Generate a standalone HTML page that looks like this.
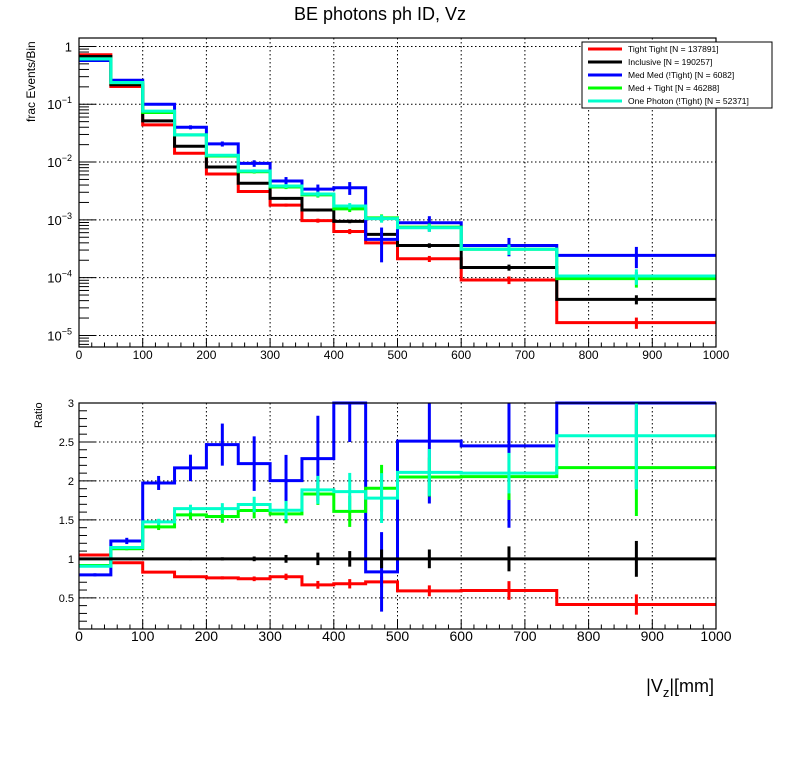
<!DOCTYPE html>
<html><head><meta charset="utf-8"><style>
body{margin:0;background:#fff;}
svg{display:block;font-family:"Liberation Sans",Arial,sans-serif;}
</style></head><body>
<svg id="c" width="796" height="772" viewBox="0 0 796 772">
<rect width="796" height="772" fill="#fff"/>
<text x="380" y="20" font-size="18" text-anchor="middle">BE photons ph ID, Vz</text>
<text transform="translate(35,122) rotate(-90)" font-size="12" text-anchor="start">frac Events/Bin</text>
<text transform="translate(42,428) rotate(-90)" font-size="11" text-anchor="start">Ratio</text>
<text x="714" y="692" font-size="18" text-anchor="end">|V<tspan font-size="13" dy="5">z</tspan><tspan dy="-5">|[mm]</tspan></text>
<g id="topPanel"></g>
<g id="botPanel"></g>
<g id="leg"></g>
</svg>
<script>
const binEdges=[0,50,100,150,200,250,300,350,400,450,500,600,750,1000];
const seriesNames=["Tight Tight [N = 137891]","Inclusive [N = 190257]","Med Med (!Tight) [N = 6082]","Med + Tight [N = 46288]","One Photon (!Tight) [N = 52371]"];
const seriesColors=["#ff0000","#000000","#0000ff","#00ff00","#00ffcc"];
const fracRed=[0.72,0.203,0.044,0.0142,0.0062,0.0031,0.0018,0.00097,0.00063,0.0004,0.000212,0.000091,0.0000167];
const fracBlack=[0.67,0.217,0.0515,0.0188,0.0082,0.0043,0.00235,0.00148,0.00094,0.00056,0.00036,0.00015,0.000042];
const fracBlue=[0.57,0.26,0.1,0.04,0.0206,0.0095,0.0047,0.0034,0.0036,0.00046,0.00089,0.00036,0.000243];
const fracGreen=[0.61,0.236,0.072,0.0295,0.0127,0.0068,0.0037,0.0027,0.00155,0.00108,0.00075,0.00031,0.000096];
const fracCyan=[0.61,0.238,0.076,0.0295,0.0131,0.007,0.00385,0.0028,0.00174,0.00105,0.00073,0.00031,0.000107];
const relErrRed=[0.005,0.01,0.02,0.03,0.04,0.05,0.06,0.08,0.1,0.1,0.12,0.15,0.22];
const relErrBlack=[0.004,0.008,0.015,0.02,0.03,0.04,0.05,0.06,0.07,0.08,0.09,0.12,0.18];
const relErrBlue=[0.03,0.03,0.05,0.08,0.1,0.13,0.17,0.2,0.25,0.6,0.3,0.35,0.4];
const relErrGreen=[0.01,0.02,0.03,0.04,0.05,0.07,0.08,0.1,0.12,0.15,0.15,0.2,0.3];
const relErrCyan=[0.01,0.02,0.03,0.04,0.05,0.07,0.08,0.1,0.12,0.15,0.15,0.2,0.3];
const ratioRed=[1.05,0.95,0.83,0.77,0.756,0.744,0.77,0.667,0.68,0.705,0.59,0.594,0.414];
const ratioBlack=[1,1,1,1,1,1,1,1,1,1,1,1,1];
const ratioBlue=[0.795,1.23,1.974,2.167,2.466,2.222,2.004,2.286,3.2,0.833,2.51,2.45,3.2];
const ratioGreen=[0.915,1.13,1.41,1.564,1.543,1.62,1.577,1.833,1.61,1.906,2.05,2.055,2.17];
const ratioCyan=[0.906,1.145,1.474,1.645,1.645,1.697,1.624,1.885,1.863,1.78,2.11,2.1,2.58];
const rErrRed=[0.01,0.01,0.01,0.015,0.02,0.03,0.04,0.05,0.06,0.07,0.07,0.12,0.13];
const rErrBlack=[0.005,0.008,0.012,0.017,0.02,0.03,0.05,0.08,0.1,0.12,0.12,0.16,0.23];
const rErrBlue=[0.02,0.04,0.09,0.17,0.27,0.35,0.33,0.55,0.7,0.51,0.8,1.05,1.3];
const rErrGreen=[0.01,0.02,0.04,0.06,0.08,0.1,0.12,0.14,0.2,0.3,0.25,0.3,0.62];
const rErrCyan=[0.01,0.02,0.04,0.05,0.07,0.1,0.12,0.18,0.24,0.32,0.3,0.26,0.69];
const xTickLabels=["0","100","200","300","400","500","600","700","800","900","1000"];
const topYTickExp=[0,-1,-2,-3,-4,-5];
const ratioTickLabels=["0.5","1","1.5","2","2.5","3"];

const NS="http://www.w3.org/2000/svg";
function mk(parent,tag,attrs){const e=document.createElementNS(NS,tag);for(const k in attrs)e.setAttribute(k,attrs[k]);parent.appendChild(e);return e;}
const X0=79,X1=716;
const sx=v=>X0+(v-0)/(1000-0)*(X1-X0);
const T0=38,T1=347,LMAX=Math.log10(1.4),LMIN=-5.2;
const syT=v=>T0+(LMAX-Math.log10(v))/(LMAX-LMIN)*(T1-T0);
const B0=403,B1=629,RMIN=0.1,RMAX=3;
const syB=v=>B0+(RMAX-Math.min(Math.max(v,RMIN),RMAX))/(RMAX-RMIN)*(B1-B0);

function frameAndX(g,y0,y1,fs,ly){
  xTickLabels.forEach((l,i)=>{const v=+l;const x=sx(v);
    if(i>0&&i<xTickLabels.length-1){const gl=mk(g,'line',{x1:x,x2:x,y1:y0,y2:y1,stroke:'#000','stroke-width':1,'stroke-dasharray':'1.5,2.5'});
    
    }
    const t=mk(g,'text',{x:x,y:ly,'font-size':fs,'text-anchor':'middle'});t.textContent=l;
    
    
  });
  for(let v=0;v<=1000;v+=20){const x=sx(v);const len=(v%100===0)?9:4.5;
    mk(g,'line',{x1:x,x2:x,y1:y1,y2:y1-len,stroke:'#000','stroke-width':1});}
}
function drawSeries(g,vals,errs,col,sy,isTop,name){
  const sg=mk(g,'g',{});
  
  
  let d='';
  for(let i=0;i<vals.length;i++){const y=sy(vals[i]);const xa=sx(binEdges[i]),xb=sx(binEdges[i+1]);
    d+=(i===0?'M':'L')+xa+','+y+'L'+xb+','+y;}
  mk(sg,'path',{d:d,fill:'none',stroke:col,'stroke-width':3});
  for(let i=0;i<vals.length;i++){const xc=sx((binEdges[i]+binEdges[i+1])/2);
    let lo,hi;
    if(isTop){lo=vals[i]*(1-errs[i]);hi=vals[i]*(1+errs[i]);}else{lo=vals[i]-errs[i];hi=vals[i]+errs[i];}
    const y1=sy(hi),y2=sy(Math.max(lo,isTop?1e-7:RMIN));
    if(Math.abs(y2-y1)>1){const eb=mk(sg,'line',{x1:xc,x2:xc,y1:y1,y2:y2,stroke:col,'stroke-width':3});
    
    }
  }
}
const topG=document.getElementById('topPanel'),botG=document.getElementById('botPanel');
topYTickExp.forEach(e=>{const y=syT(Math.pow(10,e));
  const gl=mk(topG,'line',{x1:X0,x2:X1,y1:y,y2:y,stroke:'#000','stroke-width':1,'stroke-dasharray':'1.5,2.5'});
  
  
  const t=mk(topG,'text',{x:72,y:y+5,'font-size':13,'text-anchor':'end'});
  if(e===0)t.textContent='1';else{t.textContent='10';const s=mk(t,'tspan',{dy:-6,'font-size':9});s.textContent='\u2212'+(-e);}
  
  
});
for(let e=0;e>=-6;e--){for(let m=1;m<10;m++){const v=m*Math.pow(10,e);if(v>1.4||v<Math.pow(10,LMIN))continue;
  const y=syT(v);mk(topG,'line',{x1:X0,x2:X0+(m===1?17:10),y1:y,y2:y,stroke:'#000','stroke-width':1});}}
frameAndX(topG,T0,T1,12,359);
const topVals=[fracRed,fracBlack,fracBlue,fracGreen,fracCyan];
const topErr=[relErrRed,relErrBlack,relErrBlue,relErrGreen,relErrCyan];
const snames=['tight-tight','inclusive','med-med','med-tight','one-photon'];
topVals.forEach((v,k)=>drawSeries(topG,v,topErr[k],seriesColors[k],syT,true,snames[k]+'-histogram'));
mk(topG,'rect',{x:X0,y:T0,width:X1-X0,height:T1-T0,fill:'none',stroke:'#000','stroke-width':1.2});
ratioTickLabels.forEach(l=>{const v=+l;const y=syB(v);
  if(v<3){const gl=mk(botG,'line',{x1:X0,x2:X1,y1:y,y2:y,stroke:'#000','stroke-width':1,'stroke-dasharray':'1.5,2.5'});
  
  }
  const t=mk(botG,'text',{x:74,y:y+4,'font-size':11,'text-anchor':'end'});t.textContent=l;
  
  
});
for(let v=0.1;v<=3.001;v+=0.1){const y=syB(v);const maj=Math.abs(v*2-Math.round(v*2))<1e-6;
  mk(botG,'line',{x1:X0,x2:X0+(maj?17:8),y1:y,y2:y,stroke:'#000','stroke-width':1});}
frameAndX(botG,B0,B1,14,641);
const rVals=[ratioRed,ratioBlack,ratioBlue,ratioGreen,ratioCyan];
const rErr=[rErrRed,rErrBlack,rErrBlue,rErrGreen,rErrCyan];
[0,2,3,4,1].forEach(k=>drawSeries(botG,rVals[k],rErr[k],seriesColors[k],syB,false,snames[k]+'-ratio'));
mk(botG,'rect',{x:X0,y:B0,width:X1-X0,height:B1-B0,fill:'none',stroke:'#000','stroke-width':1.2});
const leg=document.getElementById('leg');
mk(leg,'rect',{x:582,y:42,width:190,height:66,fill:'#fff',stroke:'#000','stroke-width':1});
seriesNames.forEach((n,i)=>{const y=48+i*13;
  const e=mk(leg,'g',{});
  
  
  mk(e,'line',{x1:588,x2:622,y1:y+1,y2:y+1,stroke:seriesColors[i],'stroke-width':3});
  const t=mk(e,'text',{x:628,y:y+4,'font-size':8.5});t.textContent=n;
});
</script>
</body></html>
